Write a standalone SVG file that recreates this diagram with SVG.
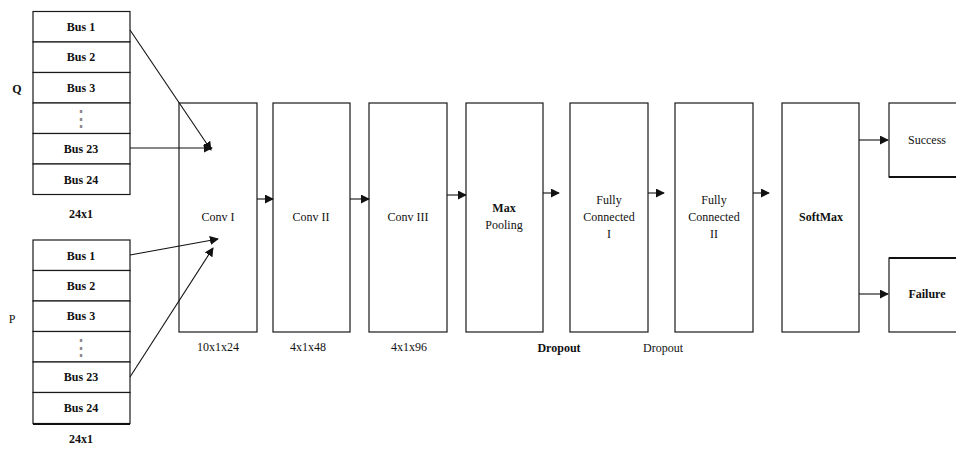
<svg xmlns="http://www.w3.org/2000/svg" width="956" height="449" viewBox="0 0 956 449">
  <defs>
    <style>
      .box { fill: #ffffff; stroke: #1a1a1a; stroke-width: 1.2; }
      .cell { fill: #ffffff; stroke: #1a1a1a; stroke-width: 1.2; }
      text { font-family: "Liberation Serif", "DejaVu Serif", serif; }
      .lbl { font-size: 12px; fill: #111; text-anchor: middle; }
      .b { font-weight: bold; }
      .dots { font-size: 22px; fill: #888; text-anchor: middle; }
      .wire { stroke: #111; stroke-width: 1.1; fill: none; marker-end: url(#head); }
    </style>
    <marker id="head" viewBox="0 0 10 10" refX="9" refY="5" markerWidth="9" markerHeight="9" markerUnits="userSpaceOnUse" orient="auto">
      <path d="M0,0 L10,5 L0,10 z" fill="#111"/>
    </marker>
  </defs>
  <rect width="956" height="449" fill="#ffffff"/>

  <!-- Q input vector -->
  <g id="q-vector" font-family="Liberation Serif, DejaVu Serif, serif">
    <rect class="cell" x="33" y="11.5" width="97" height="30.5"/>
    <rect class="cell" x="33" y="42" width="97" height="30.5"/>
    <rect class="cell" x="33" y="72.5" width="97" height="30.5"/>
    <rect class="cell" x="33" y="103" width="97" height="30.5"/>
    <rect class="cell" x="33" y="133.5" width="97" height="30.5"/>
    <rect class="cell" x="33" y="164" width="97" height="30.5"/>
    <text class="lbl b" x="81" y="31">Bus 1</text>
    <text class="lbl b" x="81" y="61">Bus 2</text>
    <text class="lbl b" x="81" y="92">Bus 3</text>
    <text class="dots" x="81" y="126">⋮</text>
    <text class="lbl b" x="81" y="153">Bus 23</text>
    <text class="lbl b" x="81" y="184">Bus 24</text>
    <text class="lbl b" x="17" y="93">Q</text>
    <text class="lbl b" x="81" y="218">24x1</text>
  </g>

  <!-- P input vector -->
  <g id="p-vector">
    <rect class="cell" x="33" y="240" width="97" height="30.5"/>
    <rect class="cell" x="33" y="270.5" width="97" height="30.5"/>
    <rect class="cell" x="33" y="301" width="97" height="30.5"/>
    <rect class="cell" x="33" y="331.5" width="97" height="30.5"/>
    <rect class="cell" x="33" y="362" width="97" height="30.5"/>
    <rect class="cell" x="33" y="392.5" width="97" height="31"/>
    <line x1="33" y1="424" x2="130" y2="424" stroke="#111" stroke-width="2"/>
    <text class="lbl b" x="81" y="260">Bus 1</text>
    <text class="lbl b" x="81" y="290">Bus 2</text>
    <text class="lbl b" x="81" y="320">Bus 3</text>
    <text class="dots" x="81" y="355">⋮</text>
    <text class="lbl b" x="81" y="381">Bus 23</text>
    <text class="lbl b" x="81" y="412">Bus 24</text>
    <text class="lbl" x="12" y="323">P</text>
    <text class="lbl b" x="81" y="443">24x1</text>
  </g>

  <!-- Network layers -->
  <g id="conv1">
    <rect class="box" x="179" y="103" width="78" height="229"/>
    <text class="lbl" x="218" y="221">Conv I</text>
    <text class="lbl" x="218" y="351">10x1x24</text>
  </g>
  <g id="conv2">
    <rect class="box" x="273" y="103" width="77" height="229"/>
    <text class="lbl" x="311" y="221">Conv II</text>
    <text class="lbl" x="308" y="351">4x1x48</text>
  </g>
  <g id="conv3">
    <rect class="box" x="369" y="103" width="78" height="229"/>
    <text class="lbl" x="408" y="221">Conv III</text>
    <text class="lbl" x="409" y="351">4x1x96</text>
  </g>
  <g id="maxpool">
    <rect class="box" x="466" y="103" width="77" height="229"/>
    <text class="lbl b" x="504" y="212">Max</text>
    <text class="lbl" x="504" y="229">Pooling</text>
  </g>
  <g id="fc1">
    <rect class="box" x="570" y="103" width="78" height="229"/>
    <text class="lbl" x="609" y="204">Fully</text>
    <text class="lbl" x="609" y="221">Connected</text>
    <text class="lbl" x="609" y="238">I</text>
  </g>
  <g id="fc2">
    <rect class="box" x="675" y="103" width="78" height="229"/>
    <text class="lbl" x="714" y="204">Fully</text>
    <text class="lbl" x="714" y="221">Connected</text>
    <text class="lbl" x="714" y="238">II</text>
  </g>
  <g id="softmax">
    <rect class="box" x="782" y="103" width="77" height="229"/>
    <text class="lbl b" x="821" y="221">SoftMax</text>
  </g>
  <g id="success">
    <rect class="box" x="889" y="103" width="80" height="74"/>
    <line x1="889" y1="177" x2="956" y2="177" stroke="#111" stroke-width="2"/>
    <text class="lbl" x="927" y="144">Success</text>
  </g>
  <g id="failure">
    <rect class="box" x="889" y="258" width="80" height="74"/>
    <line x1="889" y1="258" x2="956" y2="258" stroke="#111" stroke-width="2"/>
    <text class="lbl b" x="927" y="298">Failure</text>
  </g>
  <g id="dropout-labels">
    <text class="lbl b" x="559" y="352">Dropout</text>
    <text class="lbl" x="663" y="352">Dropout</text>
  </g>

  <!-- Connectors -->
  <g id="connectors">
    <line class="wire" x1="130" y1="30" x2="211" y2="150"/>
    <line class="wire" x1="130" y1="148" x2="212" y2="148"/>
    <line class="wire" x1="130" y1="255" x2="218" y2="239"/>
    <line class="wire" x1="130" y1="377" x2="213" y2="248"/>
    <line class="wire" x1="257" y1="199" x2="273" y2="199"/>
    <line class="wire" x1="350" y1="199" x2="369" y2="199"/>
    <line class="wire" x1="447" y1="195" x2="466" y2="195"/>
    <line class="wire" x1="543" y1="193" x2="559" y2="193"/>
    <line class="wire" x1="648" y1="193" x2="664" y2="193"/>
    <line class="wire" x1="753" y1="193" x2="769" y2="193"/>
    <line class="wire" x1="859" y1="140" x2="888" y2="140"/>
    <line class="wire" x1="859" y1="294" x2="888" y2="294"/>
  </g>
</svg>
